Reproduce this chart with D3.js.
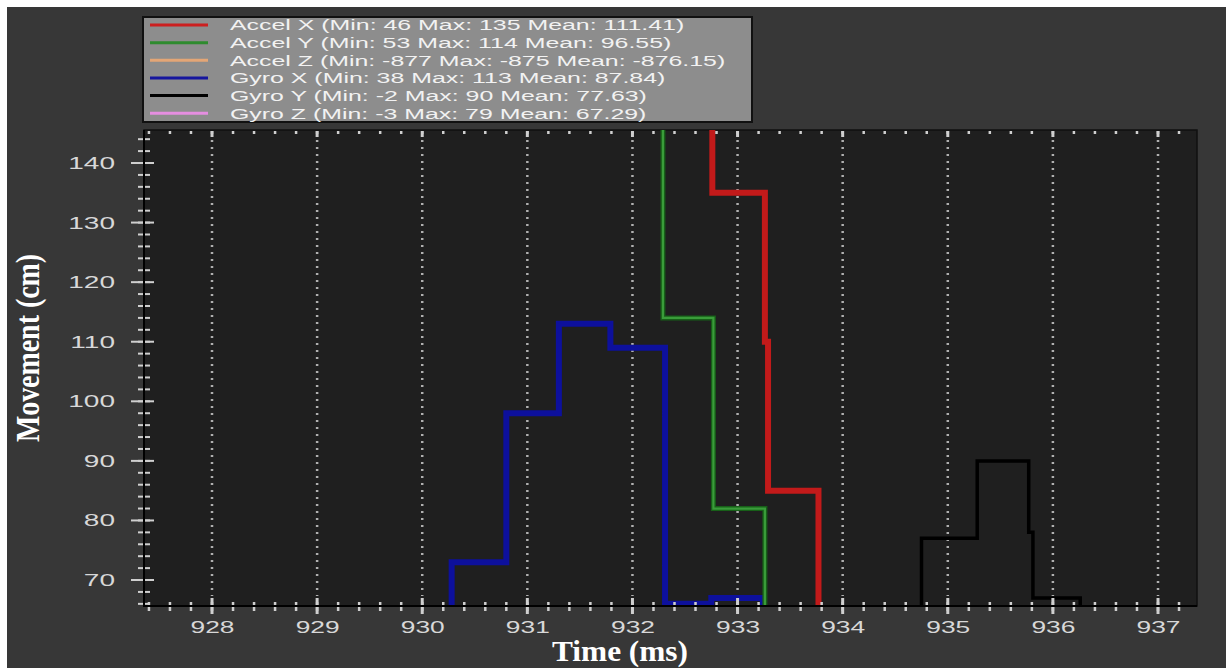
<!DOCTYPE html>
<html>
<head lang="en">
    <meta charset="UTF-8">
    <title></title>
    <script src="https://cdn.jsdelivr.net/npm/d3@7"></script>
    <style>
        body{margin:0;background:#fff;}
        svg{display:block;}
    </style>
</head>
<body>
<script>
    // tick labels
    var xTicks=[928,929,930,931,932,933,934,935,936,937];
    var yTicks=[70,80,90,100,110,120,130,140];

    // legend
    var seriesNames=["Accel X (Min: 46 Max: 135 Mean: 111.41)",
                     "Accel Y (Min: 53 Max: 114 Mean: 96.55)",
                     "Accel Z (Min: -877 Max: -875 Mean: -876.15)",
                     "Gyro X (Min: 38 Max: 113 Mean: 87.84)",
                     "Gyro Y (Min: -2 Max: 90 Mean: 77.63)",
                     "Gyro Z (Min: -3 Max: 79 Mean: 67.29)"];
    var seriesColors=["#cc1f1f","#2e8b2e","#e4a676","#16169e","#000000","#e58ee0"];

    // series (time ms, value) - step lines
    var accelXTime=[932.26,932.76,933.26,933.29,933.77];
    var accelXValue=[152,135,110,85,46];
    var accelYTime=[931.79,932.29,932.77,933.26];
    var accelYValue=[150,114,82,53];
    var accelZTime=[927.4,937.3];
    var accelZValue=[-876,-875];
    var gyroXTime=[929.78,930.28,930.80,931.30,931.79,932.31,932.75,933.24];
    var gyroXValue=[38,73,98,113,109,66,67,38];
    var gyroYTime=[934.25,934.75,935.28,935.77,935.81,936.26];
    var gyroYValue=[-2,77,90,78,67,-2];
    var gyroZTime=[927.4,937.3];
    var gyroZValue=[-3,-3];

    var W=1226,H=669;
    var pLeft=144,pRight=1197,pTop=130,pBottom=606;

    var _svg=d3.select("body").append("svg")
            .attr("width",W)
            .attr("height",H);
    _svg.append("rect").attr("width",W).attr("height",H).attr("fill","#fff");
    _svg.append("rect").attr("x",7).attr("y",7).attr("width",W-7).attr("height",H-8).attr("fill","#373737");

    var _x=d3.scaleLinear().domain([927.353,937.371]).range([pLeft,pRight]);
    var _y=d3.scaleLinear().domain([65.64,145.54]).range([pBottom,pTop]);

    // plot area
    _svg.append("rect")
            .attr("x",pLeft).attr("y",pTop)
            .attr("width",pRight-pLeft).attr("height",pBottom-pTop)
            .attr("fill","#1f1f1f")
            .attr("stroke","#111")
            .attr("stroke-width",1.5);

    _svg.append("clipPath").attr("id","clip")
            .append("rect")
            .attr("x",pLeft).attr("y",pTop)
            .attr("width",pRight-pLeft).attr("height",pBottom-pTop);

    // dotted vertical grid
    _svg.append("g").selectAll("line")
            .data(xTicks)
            .enter().append("line")
            .attr("x1",function(d){return _x(d);})
            .attr("x2",function(d){return _x(d);})
            .attr("y1",pTop+10).attr("y2",pBottom-10)
            .attr("stroke","#b0b0b0")
            .attr("stroke-width",2.5)
            .attr("stroke-dasharray","2,5");

    // lines
    var _gLines=_svg.append("g").attr("clip-path","url(#clip)");
    function stepLine(times,values,color,width){
        var pts=times.map(function(t,i){return [t,values[i]];});
        var line=d3.line()
                .x(function(d){return _x(d[0]);})
                .y(function(d){return _y(d[1]);})
                .curve(d3.curveStepAfter);
        _gLines.append("path")
                .datum(pts)
                .attr("d",line)
                .attr("fill","none")
                .attr("stroke",color)
                .attr("stroke-width",width);
    }
    stepLine(accelZTime,accelZValue,seriesColors[2],3);
    stepLine(gyroZTime,gyroZValue,seriesColors[5],3);
    stepLine(gyroYTime,gyroYValue,"#000",3.5);
    stepLine(gyroXTime,gyroXValue,"#0d109c",6);
    stepLine(accelYTime,accelYValue,"#175f18",5);
    stepLine(accelYTime,accelYValue,"#3a9c3a",2.2);
    stepLine(accelXTime,accelXValue,"#c21a1a",6);

    // ticks
    var xMinor=d3.range(927.4,937.4,0.2);
    var yMinor=d3.range(66,146,2);
    var _gTicks=_svg.append("g").attr("stroke","#cfcfcf");
    _gTicks.selectAll(".xb").data(xMinor).enter().append("line")
            .attr("x1",function(d){return _x(d);}).attr("x2",function(d){return _x(d);})
            .attr("y1",pBottom-4).attr("y2",pBottom+5).attr("stroke-width",2.5);
    _gTicks.selectAll(".xt").data(xMinor).enter().append("line")
            .attr("x1",function(d){return _x(d);}).attr("x2",function(d){return _x(d);})
            .attr("y1",pTop+1).attr("y2",pTop+4).attr("stroke-width",2.5);
    _gTicks.selectAll(".xB").data(xTicks).enter().append("line")
            .attr("x1",function(d){return _x(d);}).attr("x2",function(d){return _x(d);})
            .attr("y1",pBottom-8).attr("y2",pBottom+8).attr("stroke-width",3);
    _gTicks.selectAll(".xT").data(xTicks).enter().append("line")
            .attr("x1",function(d){return _x(d);}).attr("x2",function(d){return _x(d);})
            .attr("y1",pTop+1).attr("y2",pTop+7).attr("stroke-width",3);
    _gTicks.selectAll(".yl").data(yMinor).enter().append("line")
            .attr("x1",pLeft-6).attr("x2",pLeft+6)
            .attr("y1",function(d){return _y(d);}).attr("y2",function(d){return _y(d);})
            .attr("stroke-width",2);
    _gTicks.selectAll(".yL").data(yTicks).enter().append("line")
            .attr("x1",pLeft-13).attr("x2",pLeft+10)
            .attr("y1",function(d){return _y(d);}).attr("y2",function(d){return _y(d);})
            .attr("stroke-width",2);

    // axis lines
    _svg.append("line").attr("x1",pLeft).attr("x2",pLeft).attr("y1",pTop).attr("y2",pBottom+1)
            .attr("stroke","#000").attr("stroke-width",2);
    _svg.append("line").attr("x1",pLeft-1).attr("x2",pRight).attr("y1",pBottom).attr("y2",pBottom)
            .attr("stroke","#000").attr("stroke-width",2);

    // axis labels
    var _gx=_svg.append("g").attr("transform","translate(0,"+pBottom+")");
    d3.axisBottom(_x).tickValues(xTicks).tickSize(0).tickPadding(15)(_gx);
    _gx.select(".domain").remove();
    _gx.selectAll("text")
            .attr("fill","#d8d8d8")
            .style("font-family","'Liberation Sans',Arial,sans-serif")
            .style("font-size","17px")
            .attr("transform","scale(1.55,1)");

    var _gy=_svg.append("g").attr("transform","translate("+pLeft+",0)");
    d3.axisLeft(_y).tickValues(yTicks).tickSize(0)(_gy);
    _gy.select(".domain").remove();
    _gy.selectAll("text")
            .attr("x",0)
            .attr("fill","#d8d8d8")
            .style("font-family","'Liberation Sans',Arial,sans-serif")
            .style("font-size","17px")
            .attr("transform","translate(-29,0) scale(1.65,1)");

    // axis titles
    _svg.append("text")
            .attr("transform","translate(620,661) scale(1.08,1)")
            .attr("text-anchor","middle")
            .attr("fill","#fff")
            .style("font-family","'Liberation Serif','Times New Roman',serif")
            .style("font-weight","bold")
            .style("font-size","29px")
            .text("Time (ms)");
    _svg.append("text")
            .attr("transform","translate(39,348) rotate(-90) scale(0.93,1.12)")
            .attr("text-anchor","middle")
            .attr("fill","#fff")
            .style("font-family","'Liberation Serif','Times New Roman',serif")
            .style("font-weight","bold")
            .style("font-size","30px")
            .text("Movement (cm)");

    // legend
    var _gLeg=_svg.append("g");
    _gLeg.append("rect")
            .attr("x",143).attr("y",17)
            .attr("width",609).attr("height",105)
            .attr("fill","#8d8d8d")
            .attr("stroke","#111")
            .attr("stroke-width",2);
    var _row=_gLeg.selectAll("g.row")
            .data(seriesNames)
            .enter().append("g")
            .attr("transform",function(d,i){return "translate(0,"+(25+i*17.65)+")";});
    _row.append("line")
            .attr("x1",150).attr("x2",208)
            .attr("y1",0).attr("y2",0)
            .attr("stroke",function(d,i){return seriesColors[i];})
            .attr("stroke-width",3);
    _row.append("text")
            .attr("transform","translate(230,0) scale(1.66,1)")
            .attr("dy","0.36em")
            .attr("fill","#f2f2f2")
            .style("font-family","'Liberation Sans',Arial,sans-serif")
            .style("font-size","15px")
            .text(function(d){return d;});
</script>

</body>
</html>
